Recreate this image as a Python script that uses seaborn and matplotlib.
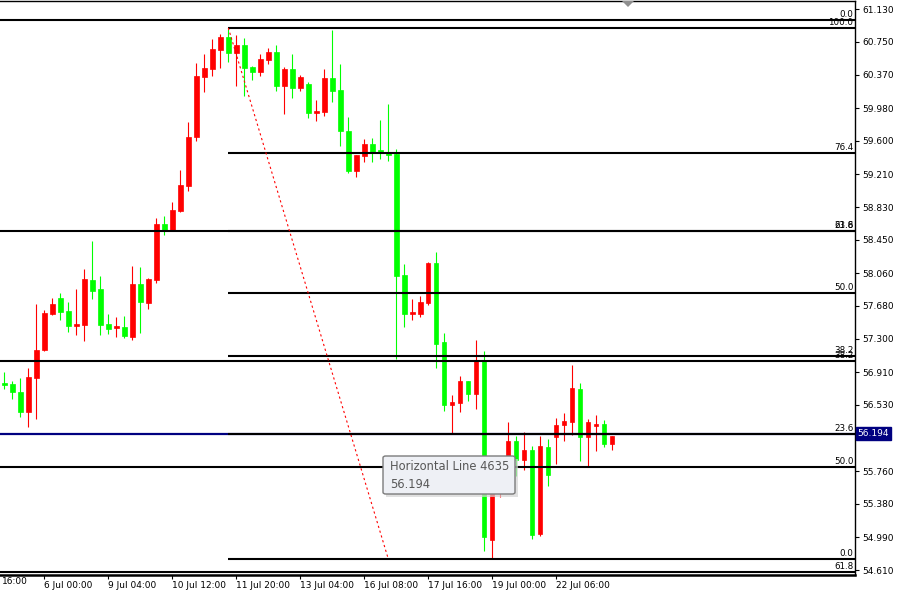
import pandas as pd
import seaborn as sns
import matplotlib.pyplot as plt
import matplotlib.transforms as mtransforms
from matplotlib.patches import FancyBboxPatch, Rectangle, Polygon

# H4 candles, oldest first
opens = [56.78, 56.77, 56.68, 56.45, 56.84, 57.17, 57.59, 57.77, 57.62, 57.45,
         57.46, 57.98, 57.88, 57.47, 57.42, 57.44, 57.32, 57.94, 57.72, 57.98,
         58.63, 58.56, 58.78, 59.08, 59.64, 60.34, 60.44, 60.66, 60.81, 60.62,
         60.71, 60.46, 60.40, 60.54, 60.63, 60.24, 60.44, 60.21, 60.26, 59.92,
         59.94, 60.33, 60.19, 59.71, 59.25, 59.42, 59.56, 59.49, 59.46, 59.45,
         58.04, 57.59, 57.59, 57.72, 58.18, 57.26, 56.53, 56.55, 56.81, 56.66,
         57.05, 54.96, 55.54, 55.77, 56.11, 55.89, 56.01, 55.03, 56.04, 56.16,
         56.30, 56.33, 56.71, 56.16, 56.28, 56.31, 56.08]
highs = [56.91, 56.81, 56.84, 56.96, 57.70, 57.63, 57.77, 57.83, 57.73, 57.88,
         58.11, 58.44, 58.03, 57.59, 57.55, 57.56, 58.15, 58.13, 58.01, 58.70,
         58.73, 58.89, 59.26, 59.82, 60.51, 60.61, 60.78, 60.84, 60.90, 60.83,
         60.80, 60.47, 60.61, 60.68, 60.71, 60.46, 60.61, 60.37, 60.28, 60.08,
         60.44, 60.89, 60.49, 59.88, 59.44, 59.62, 59.63, 59.84, 60.03, 59.51,
         58.17, 57.76, 57.80, 58.19, 58.31, 57.37, 56.64, 56.87, 56.81, 57.28,
         57.16, 55.83, 55.91, 56.33, 56.17, 56.21, 56.05, 56.17, 56.13, 56.38,
         56.44, 56.99, 56.78, 56.37, 56.41, 56.35, 56.17]
lows = [56.71, 56.60, 56.39, 56.27, 56.37, 57.16, 57.57, 57.52, 57.38, 57.34,
        57.27, 57.76, 57.34, 57.35, 57.32, 57.31, 57.28, 57.37, 57.65, 57.95,
        58.51, 58.55, 58.77, 59.02, 59.60, 60.17, 60.35, 60.45, 60.52, 60.24,
        60.12, 60.31, 60.35, 60.49, 60.18, 59.91, 60.10, 60.18, 59.87, 59.83,
        59.89, 60.05, 59.54, 59.23, 59.18, 59.35, 59.35, 59.39, 59.37, 57.06,
        57.44, 57.52, 57.55, 57.69, 56.96, 56.46, 56.19, 56.45, 56.57, 56.48,
        54.83, 54.75, 55.46, 55.68, 55.70, 55.77, 54.97, 55.01, 55.59, 55.84,
        56.11, 56.18, 55.88, 55.81, 55.99, 56.04, 56.01]
closes = [56.76, 56.68, 56.45, 56.85, 57.17, 57.60, 57.70, 57.61, 57.45, 57.47,
          57.99, 57.85, 57.46, 57.41, 57.45, 57.33, 57.94, 57.73, 57.99, 58.63,
          58.56, 58.80, 59.09, 59.64, 60.35, 60.45, 60.67, 60.81, 60.62, 60.71,
          60.45, 60.40, 60.55, 60.63, 60.24, 60.44, 60.21, 60.34, 59.92, 59.95,
          60.33, 60.18, 59.71, 59.25, 59.44, 59.56, 59.47, 59.46, 59.44, 58.03,
          57.59, 57.61, 57.73, 58.18, 57.24, 56.53, 56.56, 56.81, 56.66, 57.05,
          54.99, 55.54, 55.77, 56.11, 55.89, 56.01, 55.02, 56.05, 55.71, 56.30,
          56.34, 56.73, 56.16, 56.33, 56.31, 56.08, 56.17]

time_ticks = [5, 13, 21, 29, 37, 45, 53, 61, 69]
time_labels = ["6 Jul 00:00", "9 Jul 04:00", "10 Jul 12:00", "11 Jul 20:00",
               "13 Jul 04:00", "16 Jul 08:00", "17 Jul 16:00", "19 Jul 00:00",
               "22 Jul 06:00"]
first_label = "16:00"
price_ticks = [61.130, 60.750, 60.370, 59.980, 59.600, 59.210, 58.830, 58.450,
               58.060, 57.680, 57.300, 56.910, 56.530, 55.760, 55.380, 54.990,
               54.610]

# fibo drawn from the 11 Jul high down to the 19 Jul low
fib_a_levels = [60.913, 59.457, 58.555, 57.826, 57.096, 56.195, 54.738]
fib_a_names = ["100.0", "76.4", "61.8", "50.0", "38.2", "23.6", "0.0"]
fib_a_start = 28
trend_x = [28, 48]
trend_y = [60.913, 54.738]

# second fibo, stretched over the whole chart
fib_b_levels = [61.006, 58.554, 57.037, 55.808, 54.588]
fib_b_names = ["0.0", "23.6", "38.2", "50.0", "61.8"]

hline_price = 56.194
hline_name = "Horizontal Line 4635"

df = pd.DataFrame({"open": opens, "high": highs, "low": lows, "close": closes})
df["color"] = ["#ff0000" if c >= o else "#00ff00" for o, c in zip(opens, closes)]

sns.set_style("white")
plt.rcParams["font.family"] = ["DejaVu Sans"]

W, H = 898, 593
fig = plt.figure(figsize=(W / 100, H / 100), dpi=100)
ax = fig.add_axes([0, 18 / H, 855 / W, 574 / H])

# candles
ax.vlines(df.index, df["low"], df["high"], colors=df["color"], lw=0.8, zorder=2)
ax.bar(df.index, df["close"] - df["open"], bottom=df["open"], width=0.55,
       color=df["color"], edgecolor=df["color"], linewidth=0.5, zorder=2)

x_right = 106.34
ax.set_xlim(-0.54, x_right)
ax.set_ylim(54.552, 61.226)

# objects
ax.axhline(hline_price, color="#000080", lw=1.6, zorder=3)
for lvl in fib_b_levels:
    ax.axhline(lvl, color="black", lw=1.5, zorder=3)
ax.hlines(fib_a_levels, fib_a_start, x_right, color="black", lw=1.5, zorder=3)
sns.lineplot(x=trend_x, y=trend_y, ax=ax, color="#ff0000", lw=0.8,
             linestyle=(0, (2, 2.5)), zorder=3)

lab = mtransforms.blended_transform_factory(ax.transAxes, ax.transData)
for lvl, name in list(zip(fib_a_levels, fib_a_names)) + list(zip(fib_b_levels, fib_b_names)):
    ax.text(0.998, lvl + 0.012, name, transform=lab, ha="right", va="bottom",
            fontsize=6.3, color="black", zorder=4)

# axes look
for side in ["left"]:
    ax.spines[side].set_visible(False)
for side in ["top", "right", "bottom"]:
    ax.spines[side].set_color("black")
    ax.spines[side].set_linewidth(1.0)
ax.spines["bottom"].set_linewidth(1.8)

ax.yaxis.tick_right()
ax.set_yticks(price_ticks)
ax.set_yticklabels([f"{p:.3f}" for p in price_ticks])
ax.tick_params(axis="y", direction="out", length=3, width=0.8, pad=2,
               labelsize=6.5, colors="black", right=True, left=False)
ax.set_xticks(time_ticks)
ax.set_xticklabels(time_labels)
ax.tick_params(axis="x", direction="out", length=3, width=0.8, pad=1,
               labelsize=6.5, colors="black", bottom=True)
for t in ax.get_xticklabels():
    t.set_horizontalalignment("left")
ax.text(0.002, -0.004, first_label, transform=ax.transAxes, ha="left", va="top",
        fontsize=6.5, color="black")
ax.set_xlabel("")
ax.set_ylabel("")

# price tag on the scale
ax.text(1.003, hline_price, f"{hline_price:.3f}", transform=lab, ha="left",
        va="center", fontsize=6.5, color="white", zorder=6, clip_on=False,
        bbox=dict(boxstyle="square,pad=0.2", fc="#000080", ec="#000080"))


def px(x, y):
    return x / W, 1 - y / H


# tooltip over the line
x0, y0, x1, y1 = 383, 456, 515, 494
shadow = Rectangle(px(x0 + 3, y1 + 3), (x1 - x0) / W, (y1 - y0) / H,
                   transform=fig.transFigure, fc="#d4d4d4", ec="none", alpha=0.7)
fig.add_artist(shadow)
tip = FancyBboxPatch(px(x0, y1), (x1 - x0) / W, (y1 - y0) / H,
                     boxstyle="round,pad=0,rounding_size=0.003",
                     transform=fig.transFigure, fc="#eef0f5", ec="#7b7b7b", lw=1)
fig.add_artist(tip)
fig.text(*px(390, 467), hline_name, ha="left", va="center", fontsize=8.3,
         color="#575757")
fig.text(*px(390, 484), f"{hline_price:.3f}", ha="left", va="center",
         fontsize=8.3, color="#575757")

# chart shift marker
fig.add_artist(Polygon([px(622, 1), px(634, 1), px(628, 7)], closed=True,
                       transform=fig.transFigure, fc="#8f8f8f", ec="none"))

fig.savefig("out.png", dpi=100)
plt.close()
